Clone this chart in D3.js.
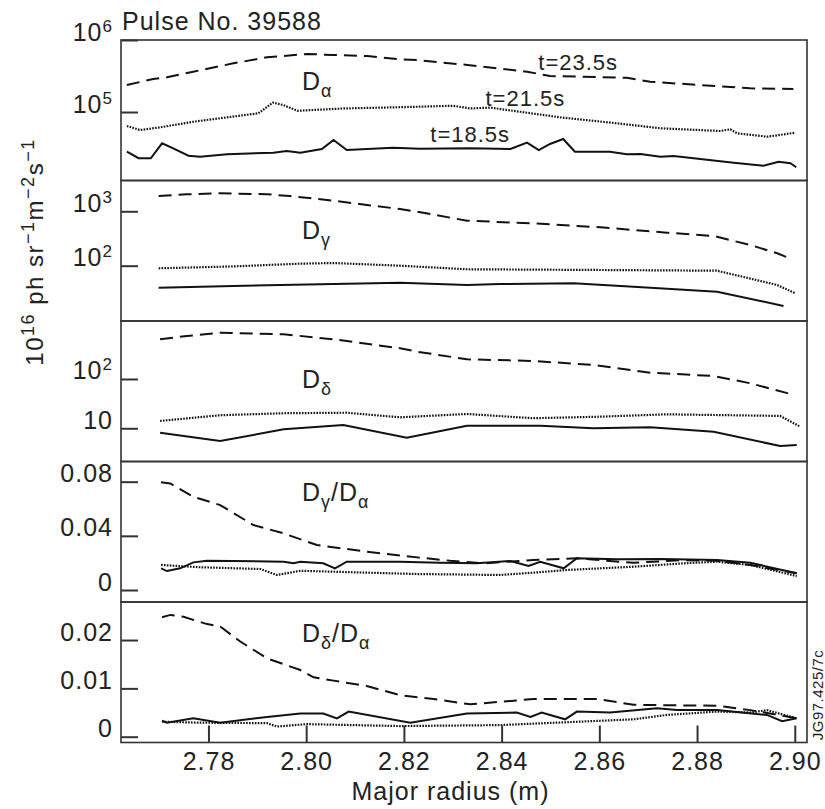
<!DOCTYPE html>
<html>

<head>
    <meta charset="UTF-8" />
    <title>Pulse No. 39588</title>
    <style>
        body {
            margin: 0;
            padding: 0;
            background-color: white;
        }

        svg text {
            font-family: 'Liberation Sans', Arial, Helvetica, sans-serif;
            fill: #222;
            letter-spacing: 1px;
        }
    </style>
</head>

<body>

    <svg id="chart" width="825" height="809"></svg>

    <script src="https://cdnjs.cloudflare.com/ajax/libs/d3/7.8.5/d3.min.js"></script>

    <script>
        // major radius (m), value  --  three times: 23.5s dashed, 21.5s dotted, 18.5s solid
        const dAlpha235 = [[2.7633, 2.37e5], [2.7687, 2.87e5], [2.7715, 3.03e5], [2.7769, 3.63e5], [2.7851, 4.74e5],
            [2.7920, 5.75e5], [2.8002, 6.40e5], [2.8055, 6.19e5], [2.8125, 6.00e5], [2.8192, 5.40e5], [2.8227, 5.27e5],
            [2.8330, 4.50e5], [2.8452, 3.63e5], [2.8499, 3.16e5], [2.8656, 2.99e5], [2.8704, 2.63e5], [2.8807, 2.37e5],
            [2.8909, 2.13e5], [2.8997, 2.09e5]]
        const dAlpha215 = [[2.7633, 6.40e4], [2.7660, 5.62e4], [2.7701, 6.12e4], [2.7769, 7.33e4], [2.7838, 8.43e4],
            [2.7902, 9.59e4], [2.7932, 1.35e5], [2.7953, 1.25e5], [2.7982, 1.04e5], [2.8076, 1.12e5], [2.8178, 1.16e5],
            [2.8301, 1.22e5], [2.8336, 1.12e5], [2.8377, 1.15e5], [2.8520, 8.43e4], [2.8636, 6.97e4], [2.8725, 5.94e4],
            [2.8847, 5.45e4], [2.8868, 5.75e4], [2.8882, 5.06e4], [2.8944, 4.54e4], [2.9001, 5.16e4]]
        const dAlpha185 = [[2.7633, 2.81e4], [2.7657, 2.28e4], [2.7682, 2.28e4], [2.7705, 3.67e4], [2.7728, 3.13e4],
            [2.7759, 2.47e4], [2.7783, 2.39e4], [2.7838, 2.59e4], [2.7933, 2.72e4], [2.7960, 2.87e4], [2.7988, 2.72e4],
            [2.8032, 3.06e4], [2.8056, 4.08e4], [2.8083, 2.96e4], [2.8178, 3.19e4], [2.8233, 3.09e4], [2.8336, 3.13e4],
            [2.8418, 3.06e4], [2.8452, 3.75e4], [2.8476, 2.96e4], [2.8499, 3.60e4], [2.8526, 4.22e4], [2.8550, 2.81e4],
            [2.8622, 2.81e4], [2.8656, 2.59e4], [2.8684, 2.61e4], [2.8725, 2.39e4], [2.8752, 2.45e4], [2.8875, 1.98e4],
            [2.8936, 1.79e4], [2.8967, 2.04e4], [2.8991, 1.94e4], [2.9003, 1.71e4]]

        const dGamma235 = [[2.7698, 1910], [2.7756, 2053], [2.7824, 2140], [2.7920, 2053], [2.7967, 1910], [2.8056, 1566],
            [2.8124, 1305], [2.8192, 1103], [2.8227, 984], [2.8329, 671], [2.8465, 601], [2.8602, 508], [2.8738, 405],
            [2.8834, 352], [2.8909, 240], [2.8964, 169], [2.8989, 137]]
        const dGamma215 = [[2.7698, 89.6], [2.7851, 97], [2.7988, 109], [2.8056, 112], [2.8192, 100], [2.8329, 86],
            [2.8602, 83.4], [2.8841, 80.9], [2.8964, 44.2], [2.9001, 31.1]]
        const dGamma185 = [[2.7698, 39.5], [2.7851, 42.4], [2.8056, 46.1], [2.8192, 48.8], [2.8329, 44.2], [2.8397, 46.1],
            [2.8547, 47.4], [2.8670, 41.1], [2.8841, 33.3], [2.8977, 18.2]]

        const dDelta235 = [[2.7701, 638], [2.7756, 745], [2.7824, 869], [2.7954, 807], [2.8056, 638], [2.8192, 420],
            [2.8227, 358], [2.8329, 251], [2.8465, 232], [2.8588, 192], [2.8704, 134], [2.8834, 115], [2.8909, 81.8],
            [2.8991, 49.7]]
        const dDelta215 = [[2.7701, 14.1], [2.7824, 18.4], [2.7954, 20.2], [2.8083, 20.7], [2.8192, 16.7], [2.8329, 19.5],
            [2.8465, 16.0], [2.8602, 17.2], [2.8738, 19.2], [2.8970, 17.8], [2.9011, 10.8]]
        const dDelta185 = [[2.7701, 8.15], [2.7824, 5.52], [2.7954, 9.55], [2.8076, 11.7], [2.8206, 6.44], [2.8329, 11.3],
            [2.8479, 11.3], [2.8588, 10], [2.8704, 10.5], [2.8834, 8.53], [2.8970, 4.37], [2.9004, 4.58]]

        const gaRatio235 = [[2.7703, 0.0795], [2.7722, 0.0787], [2.7769, 0.0689], [2.7824, 0.0627], [2.7892, 0.048],
            [2.7954, 0.0418], [2.8022, 0.0332], [2.8124, 0.0283], [2.8227, 0.0241], [2.8295, 0.0216], [2.8363, 0.0197],
            [2.8465, 0.0221], [2.8554, 0.0234], [2.8670, 0.0201], [2.8772, 0.0221], [2.8841, 0.0216], [2.8909, 0.0185],
            [2.9004, 0.0123]]
        const gaRatio215 = [[2.7703, 0.0185], [2.7783, 0.0168], [2.7906, 0.0155], [2.7940, 0.0111], [2.7988, 0.0142],
            [2.8056, 0.0135], [2.8227, 0.0118], [2.8397, 0.0111], [2.8465, 0.0128], [2.8534, 0.0148], [2.8670, 0.0172],
            [2.8772, 0.0197], [2.8841, 0.0209], [2.8909, 0.0185], [2.9004, 0.0103]]
        const gaRatio185 = [[2.7703, 0.016], [2.7715, 0.014], [2.7742, 0.016], [2.7769, 0.0204], [2.7797, 0.0216],
            [2.7954, 0.0209], [2.7974, 0.0197], [2.7988, 0.0209], [2.8035, 0.0197], [2.8059, 0.016], [2.8083, 0.0209],
            [2.8192, 0.0209], [2.8274, 0.0201], [2.8349, 0.0197], [2.8418, 0.0214], [2.8455, 0.0177], [2.8479, 0.0209],
            [2.8527, 0.016], [2.8554, 0.0234], [2.8636, 0.0227], [2.8725, 0.0229], [2.8841, 0.0221], [2.8909, 0.0201],
            [2.9004, 0.0123]]

        const daRatio235 = [[2.7705, 0.0247], [2.7722, 0.0252], [2.7749, 0.0248], [2.7797, 0.0233], [2.7824, 0.0228],
            [2.7865, 0.0197], [2.7920, 0.0162], [2.7988, 0.0138], [2.8015, 0.0123], [2.8056, 0.0116], [2.8124, 0.0105],
            [2.8192, 0.0086], [2.8261, 0.0078], [2.8336, 0.0067], [2.8465, 0.0078], [2.8595, 0.0078], [2.8670, 0.0066],
            [2.8841, 0.0064], [2.8909, 0.0055], [2.9004, 0.0038]]
        const daRatio215 = [[2.7705, 0.0031], [2.7783, 0.0029], [2.7920, 0.0028], [2.7940, 0.0021], [2.8001, 0.0026],
            [2.8192, 0.0022], [2.8397, 0.0024], [2.8534, 0.003], [2.8670, 0.0036], [2.8738, 0.0045], [2.8841, 0.0052],
            [2.8909, 0.005], [2.8943, 0.0055], [2.9004, 0.0038]]
        const daRatio185 = [[2.7705, 0.0033], [2.7715, 0.0029], [2.7769, 0.0038], [2.7824, 0.0029], [2.7920, 0.0041],
            [2.7988, 0.0048], [2.8035, 0.0048], [2.8063, 0.0038], [2.8087, 0.0052], [2.8213, 0.0029], [2.8329, 0.0048],
            [2.8431, 0.005], [2.8459, 0.0041], [2.8482, 0.005], [2.8530, 0.0036], [2.8554, 0.0052], [2.8622, 0.005],
            [2.8718, 0.0059], [2.8759, 0.0055], [2.8841, 0.0055], [2.8943, 0.0045], [2.8974, 0.0032], [2.9004, 0.0038]]

        const radiusTicks = [2.78, 2.80, 2.82, 2.84, 2.86, 2.88, 2.90]
        const timeLabels = ['t=23.5s', 't=21.5s', 't=18.5s']

        const p1Ticks = [1e5, 1e6], p1Labels = ['10^5', '10^6']
        const p2Ticks = [1e2, 1e3], p2Labels = ['10^2', '10^3']
        const p3Ticks = [10, 1e2], p3Labels = ['10', '10^2']
        const p4Ticks = [0, 0.04, 0.08], p4Labels = ['0', '0.04', '0.08']
        const p5Ticks = [0, 0.01, 0.02], p5Labels = ['0', '0.01', '0.02']

        // layout
        const left = 121, right = 807, top0 = 40, panelH = 140.5
        const dashes = ['13,7', '1.6,1.3', null]

        const panels = [
            { series: [dAlpha235, dAlpha215, dAlpha185], log: true, domain: [11190, 1e6], ticks: p1Ticks, labels: p1Labels,
              name: [{ t: 'D' }, { t: 'α', sub: true }], nameY: 50 },
            { series: [dGamma235, dGamma215, dGamma185], log: true, domain: [9.63, 3680], ticks: p2Ticks, labels: p2Labels,
              name: [{ t: 'D' }, { t: 'γ', sub: true }], nameY: 58 },
            { series: [dDelta235, dDelta215, dDelta185], log: true, domain: [2.12, 1500], ticks: p3Ticks, labels: p3Labels,
              name: [{ t: 'D' }, { t: 'δ', sub: true }], nameY: 67 },
            { series: [gaRatio235, gaRatio215, gaRatio185], log: false, domain: [-0.00886, 0.0949], ticks: p4Ticks, labels: p4Labels,
              name: [{ t: 'D' }, { t: 'γ', sub: true }, { t: '/D' }, { t: 'α', sub: true }], nameY: 39 },
            { series: [daRatio235, daRatio215, daRatio185], log: false, domain: [-0.0012, 0.02787], ticks: p5Ticks, labels: p5Labels,
              name: [{ t: 'D' }, { t: 'δ', sub: true }, { t: '/D' }, { t: 'α', sub: true }], nameY: 40 }
        ]

        const svg = d3.select('#chart')
        const x = d3.scaleLinear().domain([2.7621, 2.9025]).range([left, right])

        // text with super/subscripts built from parts
        function rich(sel, parts, small, shift) {
            sel.text(null)
            let off = 0
            parts.forEach(p => {
                const target = p.sup ? -shift : p.sub ? shift : 0
                const ts = sel.append('tspan').text(p.t).attr('dy', target - off)
                if (p.sup || p.sub) ts.style('font-size', small + 'px')
                off = target
            })
        }

        function supParts(s) {
            const [base, exp] = s.split('^')
            return exp ? [{ t: base }, { t: exp, sup: true }] : [{ t: base }]
        }

        panels.forEach((p, i) => {
            const y0 = top0 + i * panelH
            const y = (p.log ? d3.scaleLog() : d3.scaleLinear()).domain(p.domain).range([y0 + panelH, y0])
            const g = svg.append('g')

            const line = d3.line().x(d => x(d[0])).y(d => y(d[1]))

            g.selectAll('path.series')
                .data(p.series)
                .join('path')
                .attr('class', 'series')
                .attr('d', d => line(d))
                .attr('fill', 'none')
                .attr('stroke', '#111')
                .attr('stroke-width', (d, k) => k === 1 ? 2.2 : 2)
                .attr('stroke-dasharray', (d, k) => dashes[k])

            const ax = d3.axisLeft(y).tickValues(p.ticks).tickSize(-17).tickPadding(8).tickFormat('')
            const ga = g.append('g').attr('transform', `translate(${left},0)`).call(ax)
            ga.select('.domain').remove()
            ga.selectAll('.tick line').attr('stroke', '#333').attr('stroke-width', 2)
            ga.selectAll('.tick text')
                .style('font-size', '25px')
                .attr('dy', '0.42em')
                .each(function (d) {
                    const k = p.ticks.indexOf(d)
                    rich(d3.select(this), supParts(p.labels[k]), 17, 9)
                })

            g.append('rect')
                .attr('x', left).attr('y', y0)
                .attr('width', right - left).attr('height', panelH)
                .attr('fill', 'none').attr('stroke', '#333').attr('stroke-width', 1.6)

            const nm = g.append('text')
                .attr('x', 302).attr('y', y0 + p.nameY)
                .style('font-size', '25px')
            rich(nm, p.name, 18, 7)
        })

        // time labels in top panel
        const timeX = [2.8475, 2.8367, 2.8254]
        const timeY = [70, 106, 142]
        svg.selectAll('text.time')
            .data(timeLabels)
            .join('text')
            .attr('class', 'time')
            .attr('x', (d, k) => x(timeX[k]))
            .attr('y', (d, k) => timeY[k])
            .style('font-size', '22px')
            .text(d => d)

        // bottom axis
        const bottom = top0 + 5 * panelH
        const xa = svg.append('g')
            .attr('transform', `translate(0,${bottom})`)
            .call(d3.axisBottom(x).tickValues(radiusTicks).tickSize(-17).tickPadding(10).tickFormat(d3.format('.2f')))
        xa.select('.domain').remove()
        xa.selectAll('.tick line').attr('stroke', '#333').attr('stroke-width', 2)
        xa.selectAll('.tick text').style('font-size', '25px')

        svg.append('text')
            .attr('x', (left + 780) / 2).attr('y', 800)
            .attr('text-anchor', 'middle')
            .style('font-size', '25px')
            .text('Major radius (m)')

        svg.append('text')
            .attr('x', 122).attr('y', 30)
            .style('font-size', '25px')
            .text('Pulse No. 39588')

        const yl = svg.append('text')
            .attr('transform', 'translate(43,252) rotate(-90)')
            .attr('text-anchor', 'middle')
            .style('font-size', '24px')
            .style('letter-spacing', '1.5px')
        rich(yl, [{ t: '10' }, { t: '16', sup: true }, { t: ' ph sr' }, { t: '−1', sup: true }, { t: 'm' },
            { t: '−2', sup: true }, { t: 's' }, { t: '−1', sup: true }], 18, 9)

        svg.append('text')
            .attr('transform', 'translate(823,695) rotate(-90)')
            .attr('text-anchor', 'middle')
            .style('font-size', '15px')
            .style('letter-spacing', '0.5px')
            .text('JG97.425/7c')
    </script>
</body>

</html>
